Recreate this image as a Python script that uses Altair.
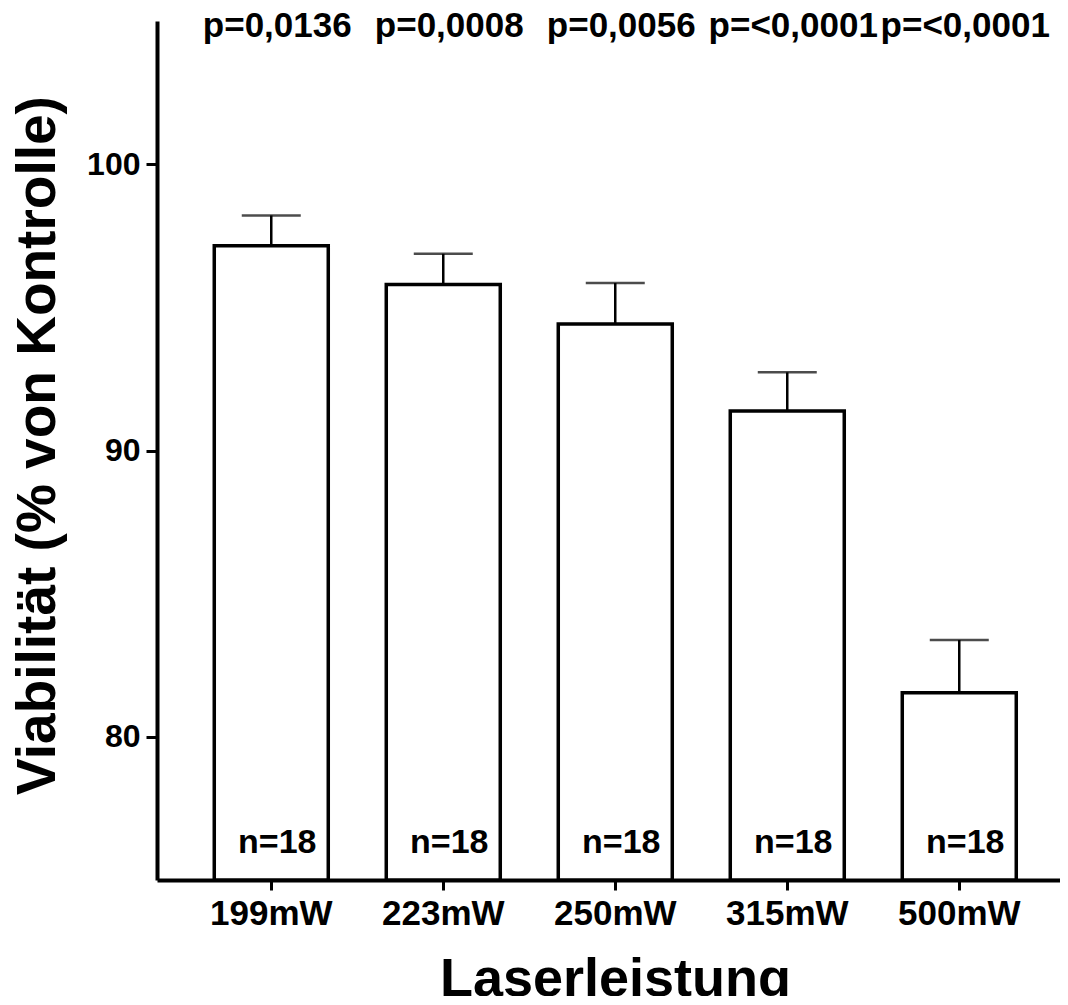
import altair as alt
import pandas as pd

categories = ["199mW", "223mW", "250mW", "315mW", "500mW"]
means = [97.15, 95.80, 94.42, 91.38, 81.54]
sems = [1.06, 1.07, 1.43, 1.35, 1.84]
p_labels = ["p=0,0136", "p=0,0008", "p=0,0056", "p=<0,0001", "p=<0,0001"]
n_labels = ["n=18", "n=18", "n=18", "n=18", "n=18"]
y_ticks = [80, 90, 100]

df = pd.DataFrame({"cat": categories, "mean": means, "sem": sems,
                   "p": p_labels, "n": n_labels})
df["upper"] = df["mean"] + df["sem"]

FONT = "Liberation Sans"

x_enc = alt.X(
    "cat:N", sort=categories,
    scale=alt.Scale(paddingInner=0.3372, paddingOuter=0.2936, align=0.567),
    axis=alt.Axis(
        title="Laserleistung", labelAngle=0,
        domainColor="black", domainWidth=4,
        tickColor="black", tickWidth=3, tickSize=10,
        labelFont=FONT, labelFontSize=35, labelFontWeight="bold",
        labelColor="black", labelPadding=6,
        titleFont=FONT, titleFontSize=54, titleFontWeight="bold",
        titleColor="black", titleBaseline="alphabetic",
        titleY=115, titleX=458, titleAlign="center",
    ),
)

y_scale = alt.Scale(domain=[75, 105], nice=False, zero=False)

base = alt.Chart(df).encode(x=x_enc)

bars = base.mark_bar(fill="white", stroke="black", strokeWidth=3.5).encode(
    y=alt.Y(
        "mean:Q", scale=y_scale,
        axis=alt.Axis(
            values=y_ticks, title="Viabilität (% von Kontrolle)", grid=False,
            domainColor="black", domainWidth=4,
            tickColor="black", tickWidth=3, tickSize=11,
            labelFont=FONT, labelFontSize=32, labelFontWeight="bold",
            labelColor="black", labelPadding=6,
            titleFont=FONT, titleFontSize=55, titleFontWeight="bold",
            titleColor="black", titleBaseline="alphabetic",
            titleX=-103, titleY=424, titleAlign="center", titleAngle=270,
        ),
    ),
    y2=alt.datum(75),
)

err = base.mark_rule(color="black", strokeWidth=2.5).encode(
    y=alt.Y("mean:Q", scale=y_scale), y2="upper:Q"
)

cap = base.mark_tick(color="black", thickness=2.5, size=59).encode(
    y=alt.Y("upper:Q", scale=y_scale)
)

ptext = base.mark_text(font=FONT, fontSize=35, fontWeight="bold",
                       baseline="alphabetic", dx=6, color="black").encode(
    text="p:N", y=alt.value(16)
)

ntext = base.mark_text(font=FONT, fontSize=34, fontWeight="bold",
                       baseline="alphabetic", dx=6, color="black").encode(
    text="n:N", y=alt.value(832)
)

chart = alt.layer(bars, err, cap, ptext, ntext).properties(
    width=903, height=859,
    autosize=alt.AutoSizeParams(type="none"),
    padding={"left": 149, "top": 13, "right": 0, "bottom": 116},
).configure_view(stroke=None).configure_axis(grid=False)

chart.save("out.html", embed_options={"renderer": "svg", "actions": False})
